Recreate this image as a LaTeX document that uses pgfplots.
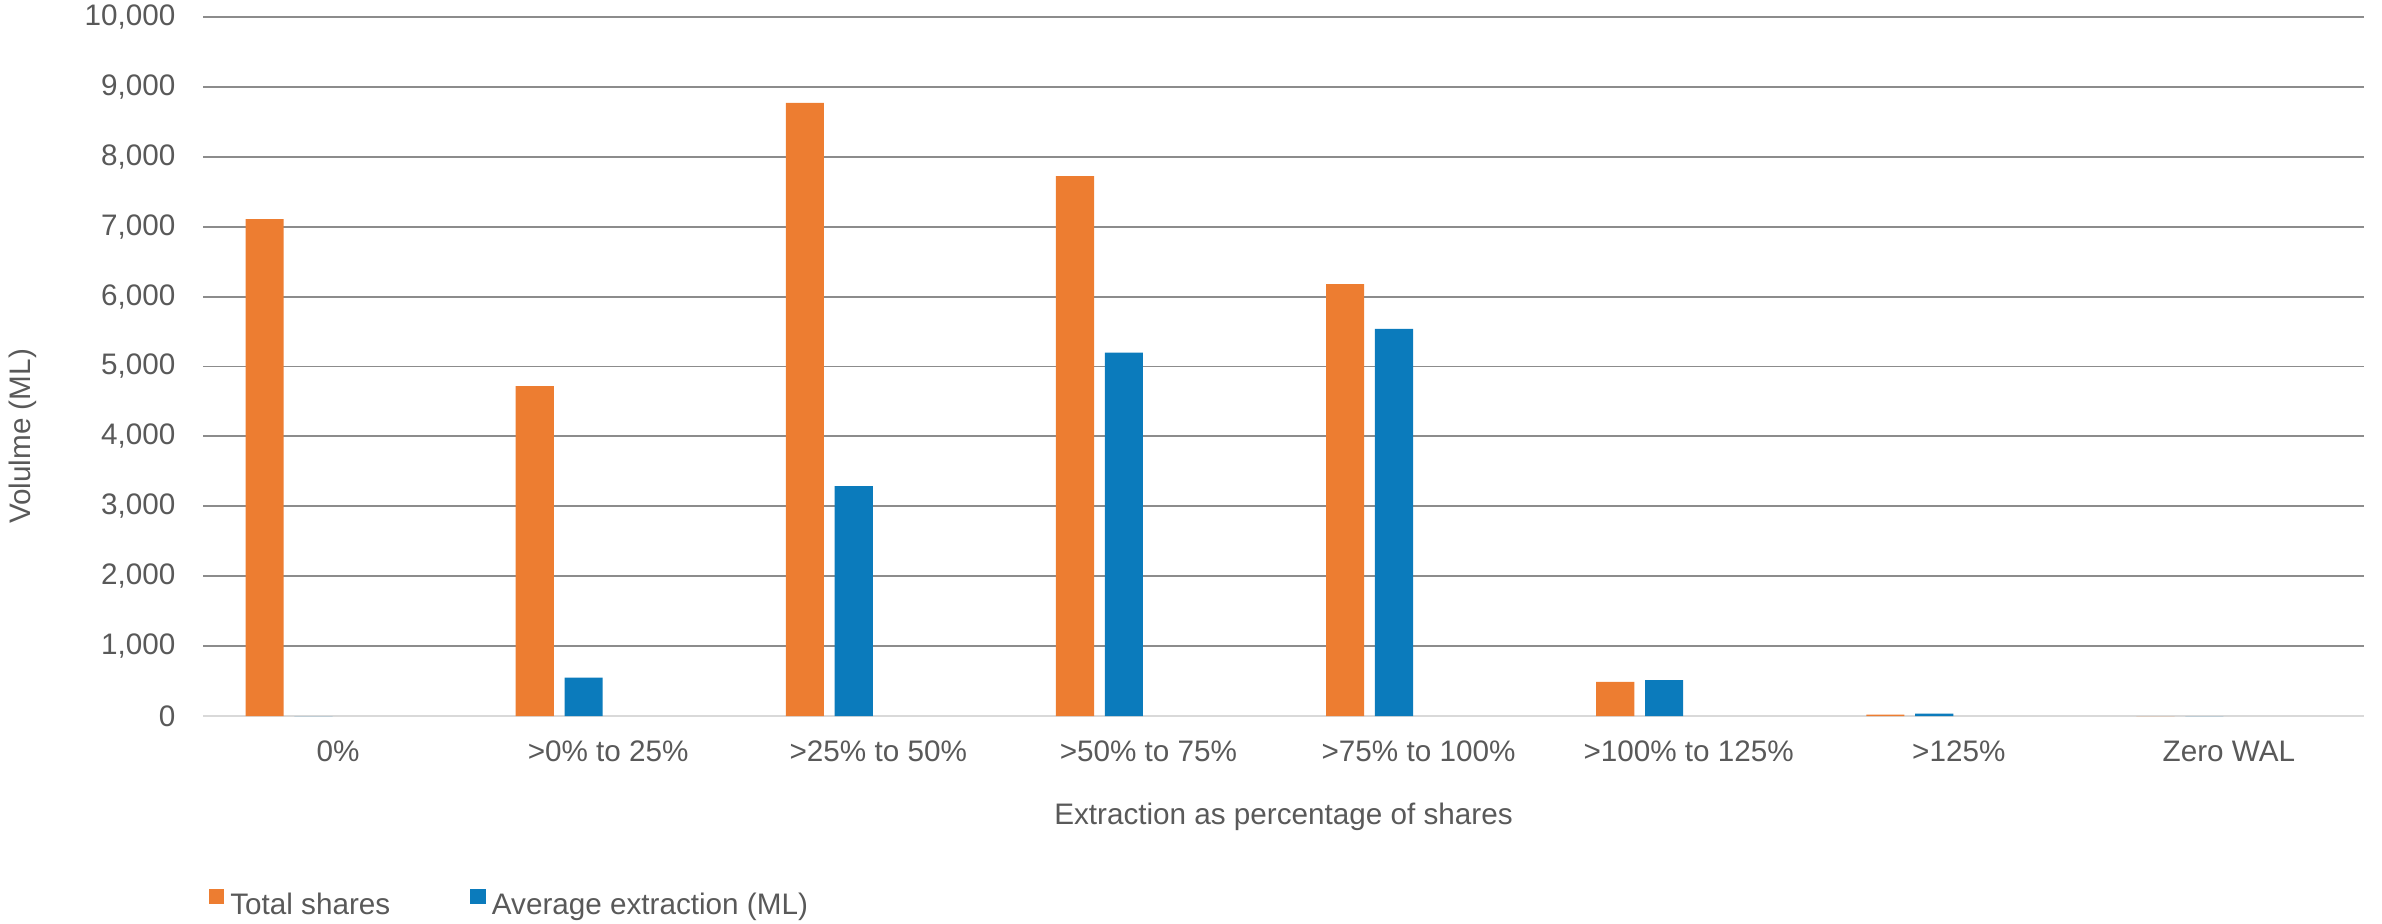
\documentclass[border=0pt]{standalone}
\usepackage{fontspec}
\setmainfont{Liberation Sans}
\usepackage{pgfplots}
\pgfplotsset{compat=1.18}
\definecolor{cOrange}{HTML}{ED7D31}
\definecolor{cBlue}{HTML}{0B7BBC}
\definecolor{cText}{HTML}{595959}
\definecolor{cGrid}{HTML}{8C8C8C}
\definecolor{cBase}{HTML}{D9D9D9}
\newcommand{\fsz}{\fontsize{8.9}{10.7}\selectfont}

\begin{document}
\begin{tikzpicture}
\useasboundingbox (0,0) rectangle (714.6pt,276.9pt);
\begin{axis}[
  at={(60.9pt,62.1pt)}, anchor=south west,
  scale only axis, width=648.3pt, height=209.7pt,
  xmin=-0.5, xmax=7.5, ymin=0, ymax=10000,
  xtick={0,...,7},
  xticklabels={0\%, >0\% to 25\%, >25\% to 50\%, >50\% to 75\%, >75\% to 100\%, >100\% to 125\%, >125\%, Zero WAL},
  ytick={0,1000,...,10000},
  scaled y ticks=false,
  /pgf/number format/assume math mode=true,
  y tick label style={/pgf/number format/fixed, /pgf/number format/1000 sep={,}},
  major tick length=0pt,
  axis x line*=bottom, axis y line*=left,
  y axis line style={draw=none},
  x axis line style={draw=cBase, line width=0.7pt},
  ymajorgrids, grid style={cGrid, line width=0.55pt},
  tick label style={font=\fsz, text=cText},
  yticklabel style={inner sep=0pt, xshift=-8.1pt},
  xticklabel style={inner sep=0pt, yshift=-7.2pt},
  label style={font=\fsz, text=cText},
  xlabel={Extraction as percentage of shares},
  xlabel style={at={(axis description cs:0.5,0)}, anchor=north, inner sep=0pt, yshift=-25.8pt},
  ylabel={Volulme (ML)},
  ylabel style={at={(axis description cs:-0.0833,0.40)}, anchor=center, inner sep=0pt},
  ybar, bar width=0.141,
  legend columns=2,
  legend style={at={(axis description cs:0.0023,-0.269)}, anchor=west,
    draw=none, fill=none, inner sep=0pt, font=\fsz, text=cText,
    nodes={inner sep=0pt}, column sep=1.8pt,
    /tikz/every even column/.append style={column sep=24pt}},
  sq/.style={legend image code/.code={\fill[##1] (0pt,0.6pt) rectangle (4.7pt,5.3pt);}},
]
\addplot[fill=cOrange, draw=none, bar shift=-0.272, sq] coordinates {
  (0,7110) (1,4720) (2,8770) (3,7725) (4,6180) (5,490) (6,20) (7,0)};
\addplot[fill=cBlue, draw=none, bar shift=-0.091, sq] coordinates {
  (0,0) (1,550) (2,3290) (3,5200) (4,5540) (5,515) (6,35) (7,0)};
\legend{Total shares, Average extraction (ML)}
\end{axis}
\end{tikzpicture}
\end{document}
